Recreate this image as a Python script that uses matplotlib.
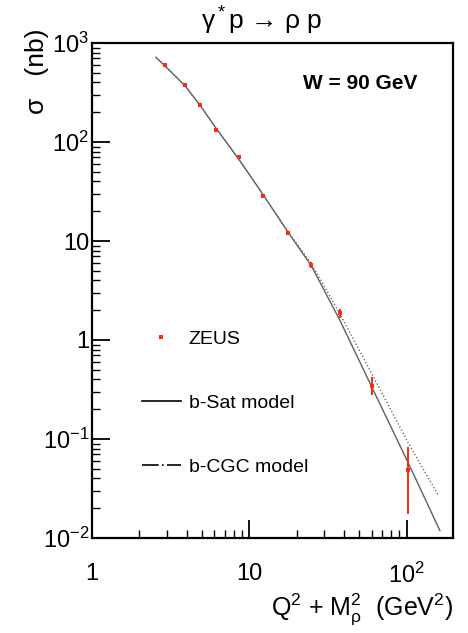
import matplotlib
matplotlib.use("Agg")
import matplotlib.pyplot as plt
from matplotlib.ticker import FixedLocator, FixedFormatter, LogLocator, NullFormatter
from matplotlib.lines import Line2D

plt.rcParams['font.family'] = ['Liberation Sans', 'DejaVu Sans']
plt.rcParams['mathtext.fontset'] = 'custom'
plt.rcParams['mathtext.rm'] = 'Liberation Sans'
plt.rcParams['mathtext.it'] = 'Liberation Sans:italic'

# ZEUS data (W = 90 GeV)
zeus_x = [2.9, 3.9, 4.87, 6.18, 8.63, 12.3, 17.6, 24.8, 37.5, 60.3, 102]
zeus_y = [600, 377, 237, 132, 70, 28.5, 12.1, 5.73, 1.86, 0.343, 0.0486]
zeus_err_lo = [20, 12, 8, 5, 2.5, 1.0, 0.5, 0.4, 0.2, 0.065, 0.031]
zeus_err_hi = [20, 12, 8, 5, 2.5, 1.0, 0.5, 0.4, 0.2, 0.084, 0.035]

# model curves
bsat_x = [2.54, 2.9, 3.9, 4.87, 6.18, 8.63, 12.3, 17.6, 24.8, 37.5, 60.3, 102, 163]
bsat_y = [720, 590, 370, 234, 136, 66, 29, 12.3, 5.6, 1.6, 0.33, 0.058, 0.0118]
bcgc_x = [2.54, 2.9, 3.9, 4.87, 6.18, 8.63, 12.3, 17.6, 24.8, 37.5, 60.3, 102, 159]
bcgc_y = [720, 590, 370, 234, 136, 66, 29, 12.4, 5.9, 1.86, 0.45, 0.092, 0.027]

xticks = [1, 10, 100]
xticklabels = ['1', '10', r'$\mathregular{10^{2}}$']
yticks = [1e-2, 1e-1, 1, 10, 100, 1000]
yticklabels = [r'$\mathregular{10^{-2}}$', r'$\mathregular{10^{-1}}$', '1', '10',
               r'$\mathregular{10^{2}}$', r'$\mathregular{10^{3}}$']

W, H = 468, 633
fig = plt.figure(figsize=(W/100, H/100), dpi=100)
ax = fig.add_axes([92/W, 1-538/H, (453-92)/W, (538-43)/H])
ax.set_xscale('log')
ax.set_yscale('log')
ax.set_xlim(1, 197)
ax.set_ylim(1e-2, 1e3)

red = '#ff2a10'
ax.plot(bsat_x, bsat_y, color='#606060', lw=1.0, solid_capstyle='round')
ax.plot(bcgc_x, bcgc_y, color='#707070', lw=1.0, linestyle=(0, (1, 1.5)))
ax.errorbar(zeus_x, zeus_y, yerr=[zeus_err_lo, zeus_err_hi], fmt='s', ms=3.2,
            color=red, ecolor=red, elinewidth=1.4, capsize=2.5, capthick=1.2, mew=0)

ax.xaxis.set_major_locator(FixedLocator(xticks))
ax.xaxis.set_major_formatter(FixedFormatter(xticklabels))
ax.yaxis.set_major_locator(FixedLocator(yticks))
ax.yaxis.set_major_formatter(FixedFormatter(yticklabels))
ax.xaxis.set_minor_locator(LogLocator(base=10, subs=range(2, 10)))
ax.yaxis.set_minor_locator(LogLocator(base=10, subs=range(2, 10)))
ax.xaxis.set_minor_formatter(NullFormatter())
ax.yaxis.set_minor_formatter(NullFormatter())
ax.tick_params(axis='x', which='major', direction='in', length=13, width=1.3,
               labelsize=17, pad=18, top=False)
ax.tick_params(axis='x', which='minor', direction='in', length=6, width=1.0, top=False)
ax.tick_params(axis='y', which='major', direction='in', length=13, width=1.3,
               labelsize=17, pad=2, right=False)
ax.tick_params(axis='y', which='minor', direction='in', length=6, width=1.0, right=False)
for s in ax.spines.values():
    s.set_linewidth(1.6)

ax.set_xlabel(r'Q$\mathregular{^2}$ + M$\mathregular{^2_\rho}$  (GeV$\mathregular{^2}$)',
              fontsize=18, loc='right', labelpad=2)
ax.set_ylabel('σ   (nb)', fontsize=19, loc='top')
ax.yaxis.set_label_coords(-0.118, 1.03)
fig.text(262/W, 1-21/H, r'γ$\mathregular{^*}$p → ρ p', ha='center', va='center', fontsize=19)
ax.text(0.90, 0.919, 'W = 90 GeV', transform=ax.transAxes, ha='right', va='center',
        fontsize=15, fontweight='bold')

handles = [Line2D([], [], marker='s', ms=3, color=red, lw=0, mew=0),
           Line2D([], [], color='black', lw=1.2),
           Line2D([], [], color='black', lw=1.2, linestyle=(0, (10, 2, 1, 2)))]
ax.legend(handles, ['ZEUS', 'b-Sat model', 'b-CGC model'], loc='upper left',
          bbox_to_anchor=(50/(453-92), 1-(330-43)/(538-43)), frameon=False,
          fontsize=14, labelspacing=2.4, handlelength=2.0, handletextpad=0.4,
          borderaxespad=0, borderpad=0)

fig.savefig('out.png', dpi=100)
